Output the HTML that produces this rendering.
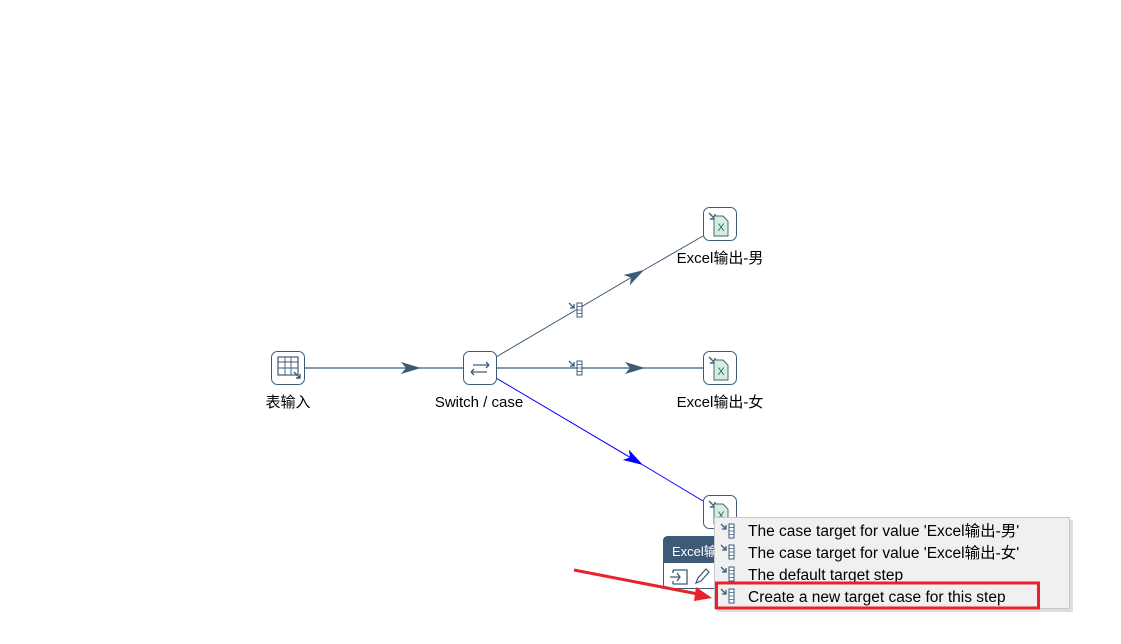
<!DOCTYPE html>
<html><head><meta charset="utf-8"><style>
html,body{margin:0;padding:0;background:#fff;width:1121px;height:644px;overflow:hidden;font-family:"Liberation Sans","Noto Sans CJK SC",sans-serif}
</style></head><body>
<svg width="1121" height="644" xmlns="http://www.w3.org/2000/svg" style="position:absolute;left:0;top:0">
<defs>
<marker id="a" viewBox="0 0 20 12" refX="20" refY="6" markerWidth="20" markerHeight="12" markerUnits="userSpaceOnUse" orient="auto"><path d="M0,0 L20,6 L0,12 L5,6 Z" fill="#3d5a78"/></marker>
<marker id="b" viewBox="0 0 20 12" refX="20" refY="6" markerWidth="20" markerHeight="12" markerUnits="userSpaceOnUse" orient="auto"><path d="M0,0 L20,6 L0,12 L5,6 Z" fill="#0000ff"/></marker>
<g id="hop"><path d="M-10,-7 l5,5 M-5,-6 v4 h-4" stroke="#3d5a78" stroke-width="1.3" fill="none"/><rect x="-2" y="-7" width="5" height="14" fill="#fff" stroke="#3d5a78"/><path d="M-2,-3.5h5M-2,0h5M-2,3.5h5" stroke="#3d5a78" stroke-width=".7"/></g>
<g id="xl"><path d="M-11,-11 l6,6 M-5,-10 v5 h-5" stroke="#3d5a78" stroke-width="1.4" fill="none"/><path d="M-6,-8 h9 l5,5 v15 h-14 z" fill="#d6efdc" stroke="#3d5a78" stroke-width=".9"/><text x="1" y="7" font-size="11" text-anchor="middle" fill="#3d5a78">X</text></g>
</defs>
<line x1="304" y1="368" x2="421" y2="368" stroke="#3d5a78" stroke-width="1.3" marker-end="url(#a)"/>
<line x1="421" y1="368" x2="463" y2="368" stroke="#3d5a78" stroke-width="1.3"/>
<line x1="496" y1="357" x2="644" y2="270" stroke="#3d5a78" stroke-width="1" marker-end="url(#a)"/>
<line x1="644" y1="270" x2="703" y2="236" stroke="#3d5a78" stroke-width="1"/>
<line x1="496" y1="368" x2="645" y2="368" stroke="#3d5a78" stroke-width="1.3" marker-end="url(#a)"/>
<line x1="645" y1="368" x2="703" y2="368" stroke="#3d5a78" stroke-width="1.3"/>
<line x1="496" y1="378" x2="643" y2="465" stroke="#0000ff" stroke-width="1" marker-end="url(#b)"/>
<line x1="643" y1="465" x2="703" y2="501" stroke="#0000ff" stroke-width="1"/>
<use href="#hop" x="579" y="310"/>
<use href="#hop" x="579" y="368"/>
<rect x="271.5" y="351.5" width="33" height="33" rx="6" fill="#fff" stroke="#3d5a78"/>
<rect x="278" y="357" width="20" height="18" fill="none" stroke="#3d5a78" stroke-width="1.2"/><path d="M278,362h20M278,368h20M285,357v18M291,357v18" stroke="#3d5a78" stroke-width=".9"/>
<path d="M294,372l6,6M300,374v4h-4" stroke="#3d5a78" stroke-width="1.4" fill="none"/>
<rect x="463.5" y="351.5" width="33" height="33" rx="6" fill="#fff" stroke="#3d5a78"/>
<path d="M471,372h16M471,372l3,-3M471,372l3,3M473,365h16M489,365l-3,-3M489,365l-3,3" stroke="#3d5a78" stroke-width="1.3" fill="none"/>
<rect x="703.5" y="207.5" width="33" height="33" rx="6" fill="#fff" stroke="#3d5a78"/><use href="#xl" x="720" y="224"/>
<rect x="703.5" y="351.5" width="33" height="33" rx="6" fill="#fff" stroke="#3d5a78"/><use href="#xl" x="720" y="368"/>
<rect x="703.5" y="495.5" width="33" height="33" rx="6" fill="#fff" stroke="#3d5a78"/><use href="#xl" x="720" y="512"/>
<g font-size="15" fill="#000" text-anchor="middle">
<text x="288" y="407">表输入</text>
<text x="479" y="407">Switch / case</text>
<text x="720" y="263">Excel输出-男</text>
<text x="720" y="407">Excel输出-女</text>
</g>
<rect x="663.5" y="536.5" width="60" height="52" rx="4" fill="#fff" stroke="#3d5a78"/>
<path d="M663.5,563 V540.5 a4,4 0 0 1 4,-4 H723 V563 Z" fill="#3d5a78"/>
<text x="672" y="556" font-size="13" fill="#fff">Excel输</text>
<path d="M673,570h14v14h-14M673,573v-3M673,581v3M670,577h10M677,573l3,4l-3,4" stroke="#3d5a78" stroke-width="1.3" fill="none"/>
<path d="M696,583l2,-5l8,-9l3,3l-8,9z" stroke="#3d5a78" stroke-width="1.2" fill="none"/>
<rect x="717" y="520" width="356" height="92" fill="#c8c8c8" opacity=".6"/>
<rect x="714.5" y="517.5" width="355" height="91" fill="#f0f0f0" stroke="#c8c8c8"/>
<use href="#hop" x="731" y="531"/>
<use href="#hop" x="731" y="552"/>
<use href="#hop" x="731" y="574"/>
<use href="#hop" x="731" y="596"/>
<g font-size="15.5" fill="#000">
<text x="748" y="536">The case target for value 'Excel输出-男'</text>
<text x="748" y="558">The case target for value 'Excel输出-女'</text>
<text x="748" y="580">The default target step</text>
<text x="748" y="602">Create a new target case for this step</text>
</g>
<rect x="716.5" y="583" width="322" height="25" fill="none" stroke="#e8212b" stroke-width="3"/>
<line x1="574" y1="570" x2="698" y2="594" stroke="#e8212b" stroke-width="3"/>
<path d="M712,598 L696,587 L694,601 Z" fill="#e8212b"/>
</svg>
</body></html>
